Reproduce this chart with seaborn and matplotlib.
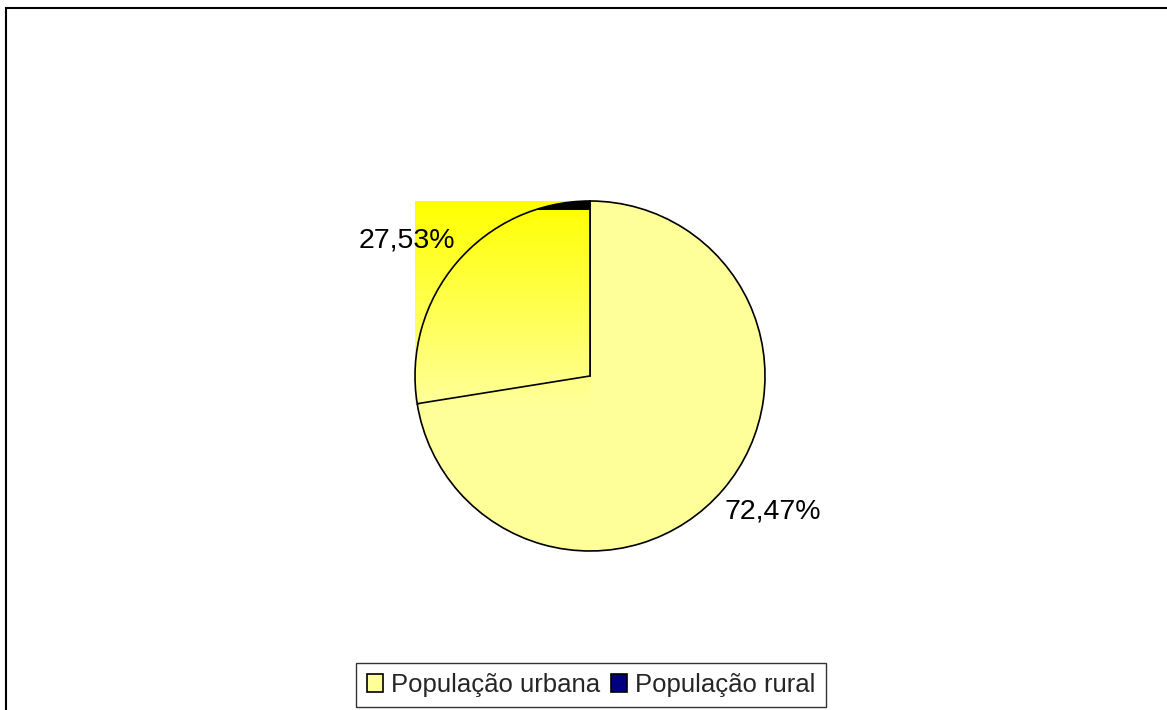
import numpy as np
import matplotlib
matplotlib.use("Agg")
import matplotlib.pyplot as plt
from matplotlib.patches import Patch, Rectangle
from matplotlib.colors import LinearSegmentedColormap
import seaborn as sns

# ---- data ----
categories = ["População urbana", "População rural"]
values = [72.47, 27.53]
legend_colors = ["#FFFF99", "#000080"]

sns.set_theme(style="white")
plt.rcParams["font.family"] = ["Liberation Sans", "DejaVu Sans"]

W, H = 1167, 710
fig = plt.figure(figsize=(W / 100, H / 100), dpi=100)
fig.patch.set_facecolor("white")

# axes placed so the pie sits at the reference position
R = 175.0
cx, cy = 590.0, H - 376.0
half = 250.0
ax = fig.add_axes([(cx - half) / W, (cy - half) / H, 2 * half / W, 2 * half / H])
lim = half / R
ax.set_xlim(-lim, lim)
ax.set_ylim(-lim, lim)
ax.set_aspect("equal")
ax.axis("off")

fmt = lambda p: f"{p:.2f}%".replace(".", ",")
wedges, texts, autotexts = ax.pie(
    values, startangle=90, counterclock=False, radius=1.0,
    colors=[legend_colors[0], "none"], autopct=fmt, pctdistance=1.3,
    wedgeprops=dict(edgecolor="black", linewidth=1.2),
    textprops=dict(fontsize=20.5, color="black"),
)
wedges[0].set_zorder(1)
wedges[1].set_zorder(4)

# label placement: rotate slightly counter-clockwise like the reference
rot = np.deg2rad(4.0)
for t in autotexts:
    x, y = t.get_position()
    t.set_position((x * np.cos(rot) - y * np.sin(rot), x * np.sin(rot) + y * np.cos(rot)))

# odd gradient fill of the second slice over its bounding box
bb = wedges[1].get_path().get_extents(wedges[1].get_patch_transform())
cmap = LinearSegmentedColormap.from_list("yl", ["#FFFF99", "#FFFF00"])
grad = np.linspace(0, 1, 256).reshape(-1, 1)
ax.imshow(grad, cmap=cmap, origin="lower", aspect="auto",
          extent=[bb.x0, bb.x1, bb.y0, bb.y1], zorder=2)
band = Rectangle((bb.x0, 0.95), bb.x1 - bb.x0, 0.06, facecolor="black",
                 edgecolor="none", zorder=3)
ax.add_patch(band)
band.set_clip_path(wedges[1])
ax.set_xlim(-lim, lim)
ax.set_ylim(-lim, lim)

# legend
handles = [Patch(facecolor=c, edgecolor="black", linewidth=1.2, label=l)
           for c, l in zip(legend_colors, categories)]
leg = fig.legend(handles=handles, loc="center", bbox_to_anchor=(591 / W, 1 - 685 / H),
                 ncol=2, fontsize=18.5, frameon=True, fancybox=False,
                 handlelength=0.65, handleheight=0.65, handletextpad=0.3,
                 columnspacing=0.4, borderpad=0.4)
leg.get_frame().set_edgecolor("black")
leg.get_frame().set_linewidth(1.0)

# outer chart frame
fig.patches.append(Rectangle((6 / W, -0.1), 2, 1.1 - 8 / H, transform=fig.transFigure,
                             fill=False, edgecolor="black", linewidth=1.5))

fig.savefig("out.png", dpi=100)
